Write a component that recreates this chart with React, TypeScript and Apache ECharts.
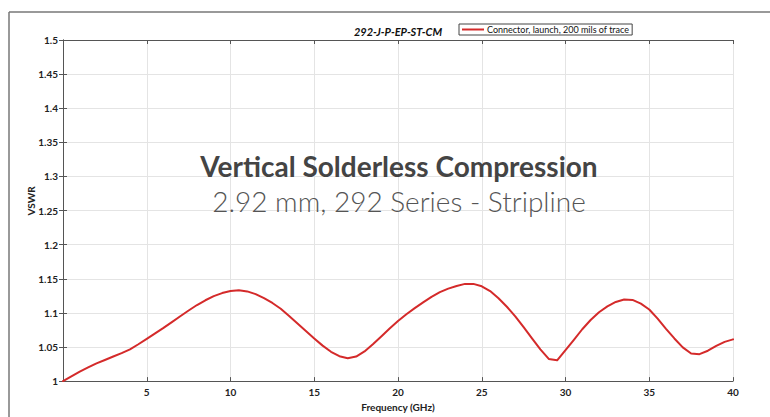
import React, { useEffect, useRef } from "react";
import * as echarts from "echarts";

const chartTitle = "292-J-P-EP-ST-CM";
const seriesName = "Connector, launch, 200 mils of trace";
const headline = "Vertical Solderless Compression";
const subline = "2.92 mm, 292 Series - Stripline";
const xAxisName = "Frequency (GHz)";
const yAxisName = "VSWR";

const freqGHz = [
  0, 0.5, 1, 1.5, 2, 2.5, 3, 3.5, 4, 4.5, 5, 5.5, 6, 6.5, 7, 7.5, 8, 8.5, 9, 9.5,
  10, 10.5, 11, 11.5, 12, 12.5, 13, 13.5, 14, 14.5, 15, 15.5, 16, 16.5, 17, 17.5,
  18, 18.5, 19, 19.5, 20, 20.5, 21, 21.5, 22, 22.5, 23, 23.5, 24, 24.5, 25, 25.5,
  26, 26.5, 27, 27.5, 28, 28.5, 29, 29.5, 30, 30.5, 31, 31.5, 32, 32.5, 33, 33.5,
  34, 34.5, 35, 35.5, 36, 36.5, 37, 37.5, 38, 38.5, 39, 39.5, 40,
];
const vswr = [
  1.0, 1.007, 1.014, 1.02, 1.026, 1.031, 1.036, 1.041, 1.0465, 1.054, 1.062, 1.07,
  1.078, 1.0865, 1.095, 1.1035, 1.1115, 1.1185, 1.1245, 1.129, 1.132, 1.133, 1.1315,
  1.1275, 1.1215, 1.1145, 1.106, 1.0955, 1.0845, 1.0735, 1.0625, 1.052, 1.043, 1.0365,
  1.0335, 1.036, 1.0435, 1.054, 1.0655, 1.077, 1.088, 1.098, 1.107, 1.1155, 1.1235,
  1.1305, 1.1355, 1.1395, 1.1425, 1.1425, 1.139, 1.132, 1.1215, 1.109, 1.095, 1.079,
  1.0625, 1.0465, 1.0325, 1.0305, 1.0455, 1.0605, 1.076, 1.0895, 1.101, 1.1095, 1.116,
  1.1195, 1.119, 1.1135, 1.105, 1.0915, 1.0765, 1.0625, 1.0495, 1.0405, 1.0395,
  1.0445, 1.0515, 1.0575, 1.0612,
];

const xMin = 0;
const xMax = 40;
const xStep = 5;
const yMin = 1;
const yMax = 1.5;
const yStep = 0.05;

const fmtY = (v: number) => String(parseFloat(v.toFixed(2)));
const fmtX = (v: number) => (v === 0 ? "" : String(v));

export default function App() {
  const ref = useRef<HTMLDivElement>(null);
  useEffect(() => {
    if (!ref.current) return;
    const chart = echarts.init(ref.current, undefined, { renderer: "svg" });
    const font = "Lato, 'Open Sans', sans-serif";
    const axisLine = { show: true, lineStyle: { color: "#555", width: 1 } };
    const tick = { show: true, inside: true, length: 4, lineStyle: { color: "#555" } };
    const data = freqGHz.map((f, i) => [f, vswr[i]]);
    chart.setOption({
      animation: false,
      backgroundColor: "#fff",
      grid: { left: 63, right: 37, top: 40, bottom: 35, containLabel: false },
      legend: {
        show: true,
        left: 459,
        top: 24,
        padding: [1, 3, 1, 3],
        borderColor: "#444",
        borderWidth: 1,
        itemWidth: 22,
        itemHeight: 2,
        itemGap: 2,
        icon: "rect",
        textStyle: { fontFamily: font, fontSize: 9, color: "#111", padding: [0, 0, 0, -2] },
        data: [seriesName],
      },
      xAxis: [
        {
          type: "value",
          min: xMin,
          max: xMax,
          interval: xStep,
          position: "bottom",
          axisLine,
          axisTick: tick,
          axisLabel: {
            formatter: fmtX,
            fontFamily: font,
            fontWeight: "bold",
            fontSize: 10,
            color: "#222",
            margin: 6,
          },
          splitLine: { show: true, lineStyle: { color: "#e4e4e4", width: 1 } },
          name: xAxisName,
          nameLocation: "middle",
          nameGap: 20,
          nameTextStyle: { fontFamily: font, fontWeight: "bold", fontSize: 10, color: "#222" },
        },
        {
          type: "value",
          min: xMin,
          max: xMax,
          interval: xStep,
          position: "top",
          axisLine,
          axisTick: tick,
          axisLabel: { show: false },
          splitLine: { show: false },
        },
      ],
      yAxis: [
        {
          type: "value",
          min: yMin,
          max: yMax,
          interval: yStep,
          position: "left",
          axisLine,
          axisTick: tick,
          axisLabel: {
            formatter: fmtY,
            fontFamily: font,
            fontWeight: "bold",
            fontSize: 10,
            color: "#222",
            margin: 5,
          },
          splitLine: { show: true, lineStyle: { color: "#e4e4e4", width: 1 } },
        },
        {
          type: "value",
          min: yMin,
          max: yMax,
          interval: yStep,
          position: "right",
          axisLine,
          axisTick: tick,
          axisLabel: { show: false },
          splitLine: { show: false },
        },
      ],
      series: [
        {
          name: seriesName,
          type: "line",
          data,
          smooth: false,
          showSymbol: false,
          symbol: "none",
          itemStyle: { color: "#d42a2a" },
          lineStyle: { color: "#d42a2a", width: 2, join: "round", cap: "round" },
        },
      ],
      graphic: [
        { type: "line", z: 100, shape: { x1: 9, y1: 12, x2: 770, y2: 12 }, style: { stroke: "#777", lineWidth: 1.5 } },
        { type: "line", z: 100, shape: { x1: 9, y1: 12, x2: 9, y2: 417 }, style: { stroke: "#777", lineWidth: 1.5 } },
        {
          type: "text",
          z: 100,
          x: 398,
          y: 31,
          style: {
            text: chartTitle,
            align: "center",
            verticalAlign: "middle",
            fontFamily: font,
            fontWeight: "bold",
            fontStyle: "italic",
            fontSize: 11,
            fill: "#111",
          },
        },
        {
          type: "text",
          z: 100,
          x: 31,
          y: 201,
          rotation: Math.PI / 2,
          style: {
            text: yAxisName,
            align: "center",
            verticalAlign: "middle",
            fontFamily: font,
            fontWeight: "bold",
            fontSize: 10,
            fill: "#222",
          },
        },
        {
          type: "text",
          z: 100,
          x: 399,
          y: 166,
          style: {
            text: headline,
            align: "center",
            verticalAlign: "middle",
            fontFamily: font,
            fontWeight: "bold",
            fontSize: 28,
            fill: "#444",
          },
        },
        {
          type: "text",
          z: 100,
          x: 399,
          y: 201,
          style: {
            text: subline,
            align: "center",
            verticalAlign: "middle",
            fontFamily: font,
            fontWeight: 300,
            fontSize: 28,
            fill: "#555",
          },
        },
      ],
    });
    return () => chart.dispose();
  }, []);
  return (
    <div
      ref={ref}
      style={{ position: "absolute", left: 0, top: 0, width: 770, height: 417 }}
    />
  );
}
